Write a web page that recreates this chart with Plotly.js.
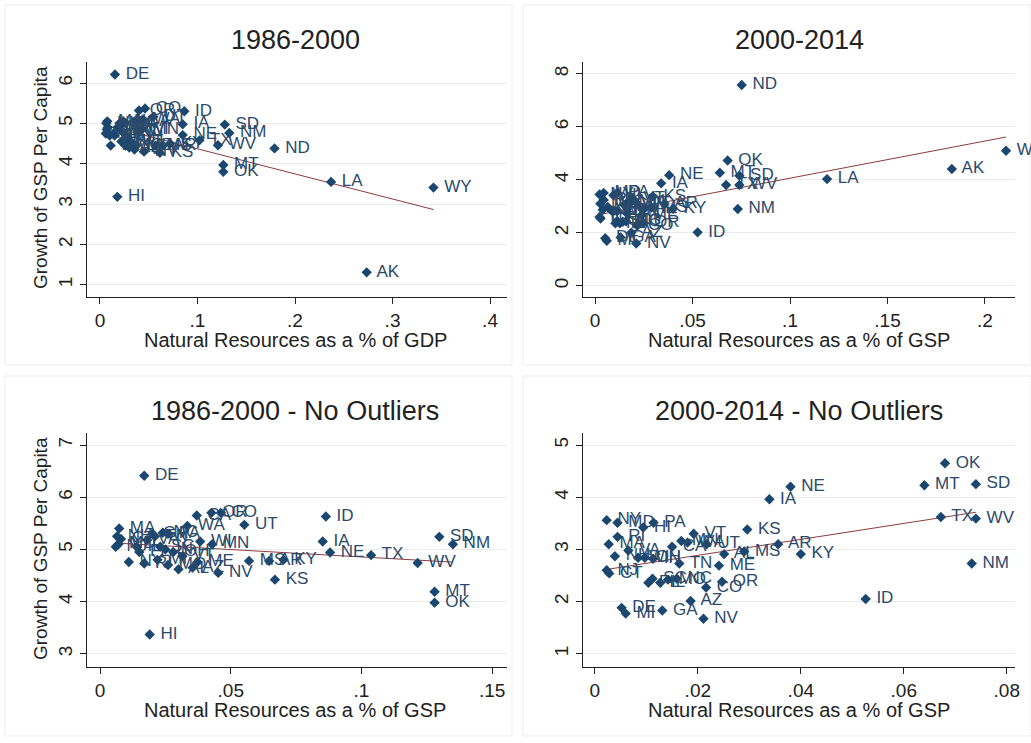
<!DOCTYPE html>
<html>
<head>
<meta charset="utf-8">
<script src="https://cdn.plot.ly/plotly-3.0.1.min.js"></script>
<style>html,body{margin:0;padding:0;background:#fff}#chart{width:1031px;height:743px}</style>
</head>
<body>
<div id="chart"></div>
<script>
// ---------- Data ----------
// Panel 1: 1986-2000 (all states)
const states1 = ["AL","AK","AZ","AR","CA","CO","CT","DE","FL","GA","HI","ID","IL","IN","IA","KS","KY","LA","ME","MD","MA","MI","MN","MS","MO","MT","NE","NV","NH","NJ","NM","NY","NC","ND","OH","OK","OR","PA","RI","SC","SD","TN","TX","UT","VT","VA","WA","WV","WI","WY"];
const nr1 = [0.0300,0.2735,0.0354,0.0647,0.0370,0.0462,0.0080,0.0154,0.0150,0.0200,0.0178,0.0865,0.0140,0.0250,0.0848,0.0615,0.0720,0.2370,0.0373,0.0070,0.0075,0.0220,0.0429,0.0570,0.0260,0.1265,0.0848,0.0452,0.0065,0.0060,0.1326,0.0100,0.0240,0.1790,0.0280,0.1265,0.0400,0.0260,0.0110,0.0230,0.1280,0.0210,0.1020,0.0547,0.0315,0.0180,0.0440,0.1210,0.0383,0.3420];
const gr1 = [4.40,1.31,4.35,4.45,5.05,5.37,4.90,6.21,4.70,5.00,3.18,5.30,4.75,4.75,4.98,4.27,4.50,3.55,4.45,4.85,5.05,4.55,4.85,4.45,4.45,3.97,4.71,4.30,5.00,4.75,4.76,4.70,5.05,4.38,4.65,3.80,5.32,5.00,4.45,4.80,4.97,4.95,4.58,5.16,4.55,4.90,5.10,4.46,4.85,3.41];

// Panel 2: 2000-2014 (all states)
const states2 = ["AL","AK","AZ","AR","CA","CO","CT","DE","FL","GA","HI","ID","IL","IN","IA","KS","KY","LA","ME","MD","MA","MI","MN","MS","MO","MT","NE","NV","NH","NJ","NM","NY","NC","ND","OH","OK","OR","PA","RI","SC","SD","TN","TX","UT","VT","VA","WA","WV","WI","WY"];
const nr2 = [0.0251,0.1830,0.0186,0.0356,0.0150,0.0216,0.0028,0.0052,0.0104,0.0131,0.0094,0.0526,0.0127,0.0113,0.0339,0.0296,0.0400,0.1190,0.0241,0.0044,0.0027,0.0060,0.0168,0.0290,0.0142,0.0640,0.0380,0.0211,0.0039,0.0023,0.0732,0.0023,0.0159,0.0752,0.0097,0.0680,0.0247,0.0114,0.0044,0.0112,0.0740,0.0164,0.0672,0.0217,0.0192,0.0065,0.0180,0.0740,0.0084,0.2108];
const gr2 = [2.91,4.41,2.01,3.10,3.05,2.27,2.54,1.80,2.36,1.83,3.42,2.02,2.36,2.82,3.87,3.38,2.91,4.03,2.69,3.51,3.10,1.70,3.16,2.96,2.42,4.27,4.18,1.60,2.87,2.60,2.90,3.45,2.44,7.58,2.84,4.73,2.38,3.51,3.24,2.44,4.16,2.73,3.81,3.10,3.30,2.98,3.13,3.81,2.84,5.10];

// Panel 3: 1986-2000, no outliers
const states3 = ["AL","AZ","AR","CA","CO","CT","DE","FL","GA","HI","ID","IL","IN","IA","KS","KY","ME","MD","MA","MI","MN","MS","MO","MT","NE","NV","NH","NJ","NM","NY","NC","OH","OK","OR","PA","RI","SC","SD","TN","TX","UT","VT","VA","WA","WV","WI"];
const nr3 = [0.0300,0.0354,0.0647,0.0370,0.0462,0.0080,0.0169,0.0150,0.0200,0.0190,0.0864,0.0140,0.0250,0.0852,0.0669,0.0702,0.0373,0.0070,0.0073,0.0220,0.0429,0.0570,0.0260,0.1280,0.0880,0.0452,0.0065,0.0060,0.1350,0.0110,0.0240,0.0280,0.1280,0.0426,0.0260,0.0169,0.0230,0.1298,0.0210,0.1037,0.0552,0.0315,0.0180,0.0334,0.1215,0.0383];
const gr3 = [4.62,4.65,4.78,5.65,5.70,5.20,6.41,4.95,5.30,3.37,5.63,5.05,5.00,5.15,4.42,4.80,4.76,5.10,5.40,4.80,5.10,4.78,4.70,4.19,4.94,4.55,5.25,5.05,5.10,4.76,5.32,4.95,3.98,5.70,5.30,4.73,5.05,5.24,5.25,4.89,5.47,4.87,5.18,5.45,4.74,5.15];

// Panel 4: 2000-2014, no outliers
const states4 = ["AL","AZ","AR","CA","CO","CT","DE","FL","GA","HI","ID","IL","IN","IA","KS","KY","ME","MD","MA","MI","MN","MS","MO","MT","NE","NV","NH","NJ","NM","NY","NC","OH","OK","OR","PA","RI","SC","SD","TN","TX","UT","VT","VA","WA","WV","WI"];
const nr4 = [0.0251,0.0186,0.0356,0.0150,0.0216,0.0028,0.0052,0.0104,0.0131,0.0094,0.0526,0.0127,0.0113,0.0339,0.0296,0.0400,0.0241,0.0044,0.0027,0.0060,0.0168,0.0290,0.0142,0.0640,0.0380,0.0211,0.0039,0.0023,0.0732,0.0023,0.0159,0.0097,0.0680,0.0247,0.0114,0.0044,0.0112,0.0740,0.0164,0.0672,0.0217,0.0192,0.0065,0.0180,0.0740,0.0084];
const gr4 = [2.91,2.01,3.10,3.05,2.27,2.54,1.88,2.36,1.83,3.42,2.05,2.36,2.82,3.96,3.38,2.91,2.69,3.51,3.10,1.77,3.16,2.96,2.42,4.23,4.20,1.67,2.87,2.60,2.73,3.56,2.44,2.84,4.65,2.38,3.51,3.24,2.44,4.25,2.73,3.62,3.10,3.30,2.98,3.13,3.59,2.84];

// Titles and tick labels
const panelTitles = ["1986-2000","2000-2014","1986-2000 - No Outliers","2000-2014 - No Outliers"];
const xTitles = ["Natural Resources as a % of GDP","Natural Resources as a % of GSP","Natural Resources as a % of GSP","Natural Resources as a % of GSP"];
const yTitle = "Growth of GSP Per Capita";
const xTickVals = [[0,0.1,0.2,0.3,0.4],[0,0.05,0.1,0.15,0.2],[0,0.05,0.1,0.15],[0,0.02,0.04,0.06,0.08]];
const xTickText = [["0",".1",".2",".3",".4"],["0",".05",".1",".15",".2"],["0",".05",".1",".15"],["0",".02",".04",".06",".08"]];
const yTickVals = [[1,2,3,4,5,6],[0,2,4,6,8],[3,4,5,6,7],[1,2,3,4,5]];

// ---------- Build ----------
const W = 1031, H = 743;
const FONT = "Liberation Sans, Arial, sans-serif";
const navy = "#1a476f", labelCol = "#2b4a6b", fitCol = "#8e3a3e";
const px = v => v / W, py = v => 1 - v / H;

const panels = [
  {s: states1, x: nr1, y: gr1, dom: [87,507,62,297], xr: [-0.0133,0.4174], yr: [0.70,6.52]},
  {s: states2, x: nr2, y: gr2, dom: [583,1015,62,297], xr: [-0.0062,0.2154], yr: [-0.42,8.45]},
  {s: states3, x: nr3, y: gr3, dom: [87,507,433,667], xr: [-0.0050,0.1557], yr: [2.747,7.23]},
  {s: states4, x: nr4, y: gr4, dom: [583,1015,433,667], xr: [-0.0023,0.0816], yr: [0.747,5.23]}
];

function ols(x, y) {
  const n = x.length;
  const mx = x.reduce((a,b)=>a+b,0)/n, my = y.reduce((a,b)=>a+b,0)/n;
  let sxy=0, sxx=0;
  for (let i=0;i<n;i++){ sxy += (x[i]-mx)*(y[i]-my); sxx += (x[i]-mx)**2; }
  const b = sxy/sxx; return {a: my - b*mx, b};
}

const data = [], layout = {
  width: W, height: H, margin: {l:0,r:0,t:0,b:0},
  paper_bgcolor: "#fff", plot_bgcolor: "#fff", showlegend: false,
  font: {family: FONT, color: "#222"},
  annotations: [], shapes: []
};

// faint subgraph frames
[[5,5,512,365],[523,5,1031,365],[5,376,512,736],[523,376,1031,736]].forEach(r=>{
  layout.shapes.push({type:"rect", xref:"paper", yref:"paper", x0:px(r[0]), x1:px(r[2]), y0:py(r[3]), y1:py(r[1]),
    line:{color:"#ececec", width:1}, layer:"below"});
});

panels.forEach((p, i) => {
  const k = i === 0 ? "" : String(i+1);
  const xa = "x"+k, ya = "y"+k;
  const f = ols(p.x, p.y);
  const xmin = Math.min(...p.x), xmax = Math.max(...p.x);
  data.push({type:"scatter", mode:"lines", x:[xmin,xmax], y:[f.a+f.b*xmin, f.a+f.b*xmax],
    xaxis:xa, yaxis:ya, line:{color:fitCol, width:1}, hoverinfo:"skip"});
  data.push({type:"scatter", mode:"markers+text", x:p.x, y:p.y, text:p.s.map(s=>" "+s),
    textposition:"middle right", cliponaxis:false,
    textfont:{family:FONT, size:17, color:labelCol},
    marker:{symbol:"diamond", size:8, color:navy},
    xaxis:xa, yaxis:ya});
  const d = p.dom;
  layout["xaxis"+k] = {domain:[px(d[0]), px(d[1])], range:p.xr, anchor:ya,
    tickvals:xTickVals[i], ticktext:xTickText[i], ticks:"outside", ticklen:6, tickcolor:"#222",
    showline:true, linecolor:"#222", linewidth:1.3, showgrid:false, zeroline:false,
    tickfont:{family:FONT, size:19, color:"#222"}};
  layout["yaxis"+k] = {domain:[py(d[3]), py(d[2])], range:p.yr, anchor:xa,
    tickvals:yTickVals[i], ticks:"outside", ticklen:6, tickcolor:"#222", tickangle:-90,
    showline:true, linecolor:"#222", linewidth:1.3, showgrid:true, gridcolor:"#eaeaea", gridwidth:1, zeroline:false,
    tickfont:{family:FONT, size:19, color:"#222"}};
  const cx = (d[0]+d[1])/2 + (i%2===0 ? -2 : 0);
  layout.annotations.push({xref:"paper", yref:"paper", x:px(cx), y:py(d[2]-22), text:panelTitles[i],
    showarrow:false, xanchor:"center", yanchor:"middle", font:{family:FONT, size:27, color:"#222"}});
  layout.annotations.push({xref:"paper", yref:"paper", x:px(cx), y:py(d[3]+43), text:xTitles[i],
    showarrow:false, xanchor:"center", yanchor:"middle", font:{family:FONT, size:20, color:"#222"}});
  if (i % 2 === 0) {
    layout.annotations.push({xref:"paper", yref:"paper", x:px(40), y:py(d[2]+116), text:yTitle, textangle:-90,
      showarrow:false, xanchor:"center", yanchor:"middle", font:{family:FONT, size:19, color:"#222"}});
  }
});

Plotly.newPlot("chart", data, layout, {displayModeBar:false, staticPlot:true});
</script>
</body>
</html>
